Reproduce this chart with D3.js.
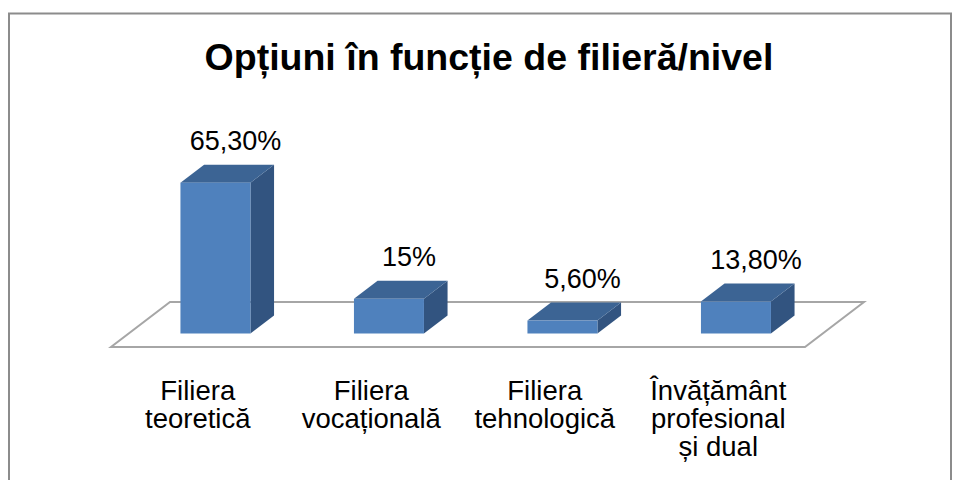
<!DOCTYPE html>
<html>
<head>
<meta charset="utf-8">
<script src="https://cdn.jsdelivr.net/npm/d3@7"></script>
<style>
  html, body { margin: 0; padding: 0; background: #ffffff; }
  svg { display: block; }
  text { font-family: "Liberation Sans", Arial, sans-serif; fill: #000; }
</style>
</head>
<body>
<script>
const title = "Opțiuni în funcție de filieră/nivel";
const categories = ["Filiera teoretică", "Filiera vocațională", "Filiera tehnologică", "Învățământ profesional și dual"];
const categoryLines = [["Filiera", "teoretică"], ["Filiera", "vocațională"], ["Filiera", "tehnologică"], ["Învățământ", "profesional", "și dual"]];
const values = [65.3, 15, 5.6, 13.8];
const valueLabels = ["65,30%", "15%", "5,60%", "13,80%"];

const W = 955, H = 480;
const svg = d3.select("body").append("svg").attr("width", W).attr("height", H);

// chart border
svg.append("rect").attr("x", 9).attr("y", 13.5).attr("width", 942).attr("height", 480)
  .attr("fill", "#fff").attr("stroke", "#8c8c8c").attr("stroke-width", 2);

svg.append("text").attr("x", 489).attr("y", 70).attr("text-anchor", "middle")
  .attr("font-size", 37.5).attr("font-weight", "bold").text(title);

// 3D projection settings
const floorFront = 347;
const depthX = 59, depthY = 45;
const z0 = 0.3, z1 = 0.7;
const barW = 70;

const x = d3.scaleBand().domain(categories).range([111, 805]).padding(0);
const h = d3.scaleLinear().domain([0, 100]).range([0, 231]);

const proj = (px, z, ht) => [px + z * depthX, floorFront - z * depthY - ht];

// floor
const floorPts = [proj(x.range()[0], 0, 0), proj(x.range()[1], 0, 0), proj(x.range()[1], 1, 0), proj(x.range()[0], 1, 0)];
svg.append("polygon").attr("points", floorPts.map(p => p.join(",")).join(" "))
  .attr("fill", "#fff").attr("stroke", "#a6a6a6").attr("stroke-width", 2);

const g = svg.append("g");
categories.forEach((c, i) => {
  const L = x(c) + (x.bandwidth() - barW) / 2;
  const R = L + barW;
  const ht = h(values[i]);
  const poly = pts => pts.map(p => p.join(",")).join(" ");
  // side
  g.append("polygon").attr("points", poly([proj(R, z0, 0), proj(R, z1, 0), proj(R, z1, ht), proj(R, z0, ht)]))
    .attr("fill", "#325480");
  // top
  g.append("polygon").attr("points", poly([proj(L, z0, ht), proj(R, z0, ht), proj(R, z1, ht), proj(L, z1, ht)]))
    .attr("fill", "#3c6494");
  // front
  const f0 = proj(L, z0, ht), f1 = proj(R, z0, 0);
  g.append("rect").attr("x", f0[0]).attr("y", f0[1]).attr("width", f1[0] - f0[0]).attr("height", f1[1] - f0[1])
    .attr("fill", "#4f81bd");
  // value label
  const top = proj((L + R) / 2, z1, ht);
  g.append("text").attr("x", (L + R) / 2 + z0 * depthX + 20).attr("y", top[1] - 15)
    .attr("text-anchor", "middle").attr("font-size", 27).text(valueLabels[i]);
});

// category labels
categories.forEach((c, i) => {
  const t = svg.append("text").attr("text-anchor", "middle").attr("font-size", 27.5)
    .attr("x", x(c) + x.bandwidth() / 2).attr("y", 400);
  categoryLines[i].forEach((ln, j) => {
    t.append("tspan").attr("x", x(c) + x.bandwidth() / 2).attr("y", 400 + j * 28).text(ln);
  });
});
</script>
</body>
</html>
